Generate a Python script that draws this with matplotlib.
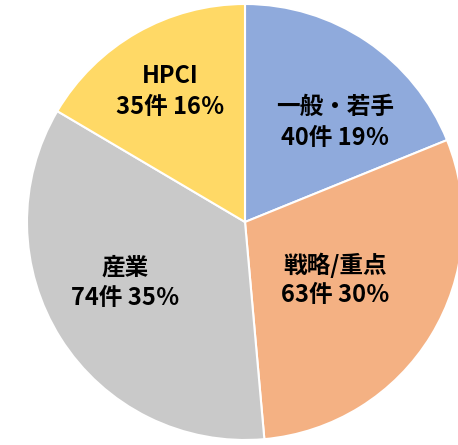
import matplotlib
matplotlib.use('Agg')
import matplotlib.pyplot as plt

plt.rcParams['font.family'] = ['Noto Sans CJK JP', 'DejaVu Sans']

# データ
names = ['一般・若手', '戦略/重点', '産業', 'HPCI']
counts = [40, 63, 74, 35]
pcts = ['19％', '30％', '35％', '16％']
colors = ['#8FAADC', '#F4B183', '#C9C9C9', '#FFD966']

fig = plt.figure(figsize=(4.58, 4.45), dpi=100)
ax = fig.add_axes([0, 0, 1, 1])

cx, cy, r = 245, 445 - 222, 218
ax.pie(counts, colors=colors, startangle=90, counterclock=False,
       center=(cx, cy), radius=r, frame=True,
       wedgeprops=dict(edgecolor='white', linewidth=1.5))
ax.set_xlim(0, 458)
ax.set_ylim(0, 445)
ax.axis('off')

# ラベル位置 (画素)
label_pos = [(335, 107, 138), (335, 265, 295), (125, 268, 298), (170, 76, 107)]
for (x, y1, y2), n, c, p in zip(label_pos, names, counts, pcts):
    ax.text(x, 445 - y1, n, ha='center', va='center', fontsize=17, fontweight='bold')
    ax.text(x, 445 - y2, '{0}件 {1}'.format(c, p), ha='center', va='center', fontsize=17, fontweight='bold')

fig.savefig('out.png', dpi=100)
